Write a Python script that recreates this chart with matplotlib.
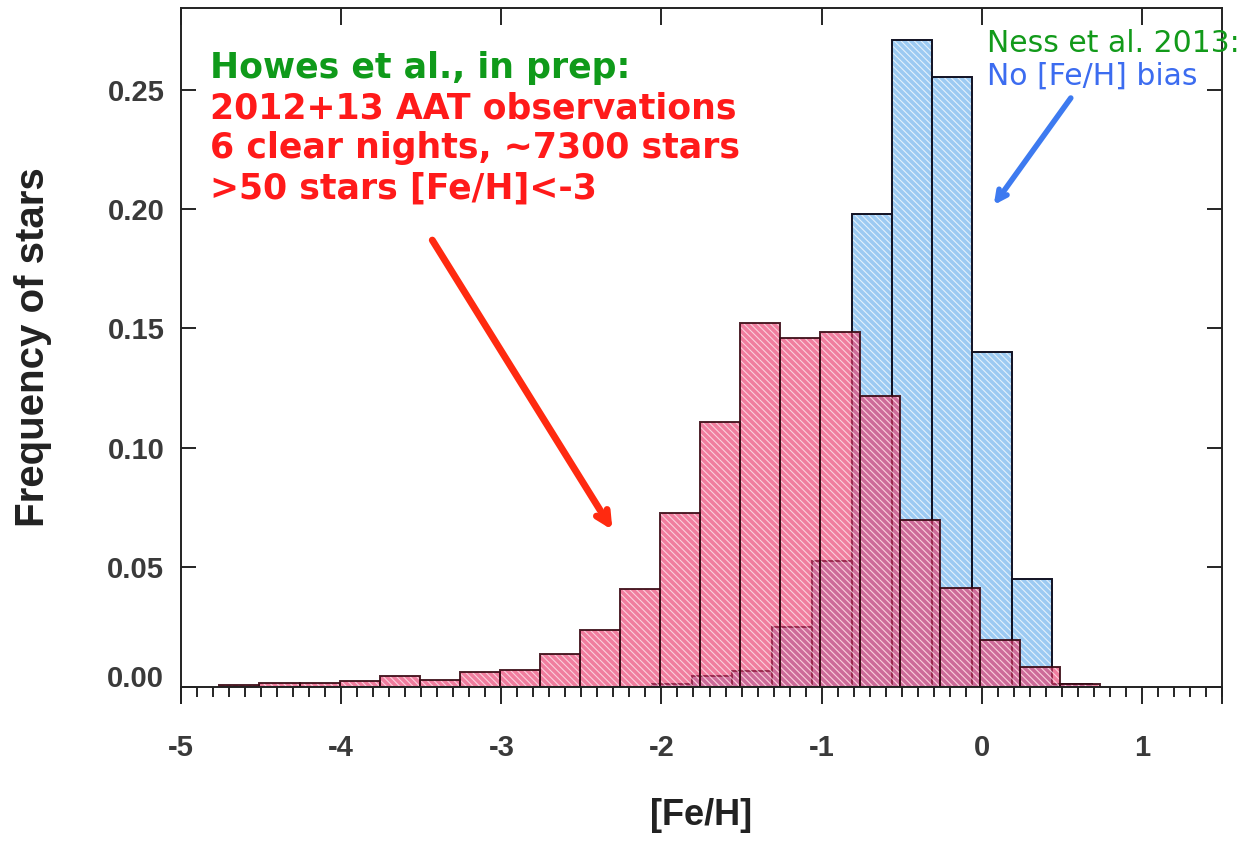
import numpy as np
import matplotlib
matplotlib.use("Agg")
import matplotlib.pyplot as plt
from matplotlib.ticker import MultipleLocator, FixedLocator
from matplotlib.transforms import ScaledTranslation

plt.rcParams['font.family'] = ['Liberation Sans', 'DejaVu Sans']
plt.rcParams['hatch.linewidth'] = 0.8

# histogram bins, normalised frequencies
bin_width = 0.25
howes_left = -4.76 + bin_width * np.arange(22)
howes_freq = [0.0007, 0.0014, 0.0017, 0.0024, 0.0045, 0.0028, 0.0062, 0.0070,
              0.0137, 0.0237, 0.0410, 0.0728, 0.1107, 0.1524, 0.1459, 0.1487,
              0.1217, 0.0697, 0.0412, 0.0196, 0.0081, 0.0013]
ness_left = -2.06 + bin_width * np.arange(11)
ness_freq = [0.0010, 0.0045, 0.0067, 0.0251, 0.0526, 0.1978, 0.2708,
             0.2552, 0.1403, 0.0449, 0.0010]

x_ticks = [-5, -4, -3, -2, -1, 0, 1]
y_ticks = [0.00, 0.05, 0.10, 0.15, 0.20, 0.25]

fig = plt.figure(figsize=(12.45, 8.41), dpi=100)
ax = fig.add_axes([0.1454, 0.1835, 0.8361, 0.807])

hatch = '\\' * 5

# Ness et al. (blue) underneath
ax.bar(ness_left, ness_freq, width=bin_width, align='edge',
       facecolor='#9ccaf2', edgecolor='#e4f1fc', hatch=hatch, linewidth=0)
ax.bar(ness_left, ness_freq, width=bin_width, align='edge',
       fill=False, edgecolor='#111122', linewidth=1.4)

# Howes et al. (red) on top, semi-transparent
ax.bar(howes_left, howes_freq, width=bin_width, align='edge',
       facecolor='#e8386a', edgecolor='white', hatch=hatch, linewidth=0,
       alpha=0.65)
ax.bar(howes_left, howes_freq, width=bin_width, align='edge',
       fill=False, edgecolor='#3a0a14', linewidth=1.4, alpha=0.9)

ax.set_xlim(-5, 1.5)
ax.set_ylim(0, 0.2842)

tick_font = dict(fontsize=21, fontweight='bold', color='#3a3a3a')
ax.xaxis.set_major_locator(FixedLocator(x_ticks))
ax.xaxis.set_minor_locator(MultipleLocator(0.1))
ax.set_xticks(x_ticks)
ax.set_xticklabels([str(v) for v in x_ticks], **tick_font)
ax.set_yticks(y_ticks)
ax.set_yticklabels([f"{v:.2f}" for v in y_ticks], **tick_font)

ax.tick_params(axis='x', which='major', direction='out', length=12, width=1.2,
               pad=22, top=False)
ax.tick_params(axis='x', which='minor', direction='out', length=7, width=1.2,
               top=False)
ax.tick_params(axis='y', which='major', direction='in', length=11, width=1.2,
               right=True, pad=12)
ax.tick_params(axis='y', which='minor', left=False, right=False)

# major ticks hanging from the top axis
sec = ax.secondary_xaxis('top')
sec.set_xticks(x_ticks)
sec.tick_params(direction='in', length=12, width=1.2, labeltop=False)
sec.spines['top'].set_visible(False)

for side in ['left', 'right', 'top', 'bottom']:
    ax.spines[side].set_linewidth(1.4)
    ax.spines[side].set_color('#222222')
ax.spines['left'].set_bounds(-0.007, 0.2842)
ax.spines['right'].set_bounds(-0.007, 0.2842)

# lift the zero label off the bottom axis
for lab in ax.get_yticklabels():
    if lab.get_text() == '0.00':
        lab.set_transform(lab.get_transform() +
                          ScaledTranslation(0, 8 / 72, fig.dpi_scale_trans))

ax.set_xlabel('[Fe/H]', fontsize=26, fontweight='bold', color='#222222',
              labelpad=26)
ax.set_ylabel('Frequency of stars', fontsize=29, fontweight='bold',
              color='#222222', labelpad=40)

# annotations
ax.text(-4.82, 0.2591, 'Howes et al., in prep:', color='#0f9a1a',
        fontsize=25, fontweight='bold', family='DejaVu Sans',
        va='center', ha='left')
red_lines = ['2012+13 AAT observations', '6 clear nights, ~7300 stars',
             '>50 stars [Fe/H]<-3']
for i, line in enumerate(red_lines):
    ax.text(-4.82, 0.2423 - i * 0.01675, line, color='#ff1a1a',
            fontsize=25, fontweight='bold', family='DejaVu Sans',
            va='center', ha='left')

ax.text(0.03, 0.2695, 'Ness et al. 2013:', color='#129a1a', fontsize=21.5,
        family='DejaVu Sans', va='center', ha='left', clip_on=False)
ax.text(0.03, 0.2558, 'No [Fe/H] bias', color='#3c6cf0', fontsize=21.5,
        family='DejaVu Sans', va='center', ha='left')

ax.annotate('', xy=(-2.306, 0.0656), xytext=(-3.431, 0.187),
            arrowprops=dict(arrowstyle='->,head_length=0.9,head_width=0.45',
                            color='#ff2a10', lw=5, shrinkA=0, shrinkB=0))
ax.annotate('', xy=(0.075, 0.2017), xytext=(0.556, 0.2465),
            arrowprops=dict(arrowstyle='->,head_length=0.7,head_width=0.35',
                            color='#3d7af0', lw=4, shrinkA=0, shrinkB=0))

fig.savefig('out.png', dpi=100)
